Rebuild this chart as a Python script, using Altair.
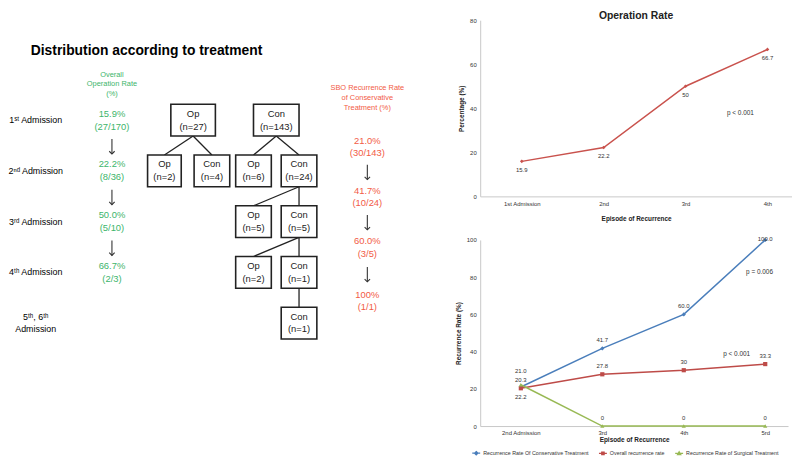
import json
import altair as alt
import pandas as pd

FONT = "Liberation Sans"
GREEN = "#3db56b"
ORANGE = "#f25b46"

# ---------------- data: left diagram ----------------
diagram_title = "Distribution according to treatment"
row_labels = ["1ˢᵗ Admission", "2ⁿᵈ Admission", "3ʳᵈ Admission", "4ᵗʰ Admission", "5ᵗʰ, 6ᵗʰ\nAdmission"]
row_levels = [1, 2, 3, 4, 5]

op_header = "Overall\nOperation Rate\n(%)"
op_rate_pct = ["15.9%", "22.2%", "50.0%", "66.7%"]
op_rate_frac = ["(27/170)", "(8/36)", "(5/10)", "(2/3)"]
op_rate_levels = [1, 2, 3, 4]

sbo_header = "SBO Recurrence Rate\nof Conservative\nTreatment (%)"
sbo_pct = ["21.0%", "41.7%", "60.0%", "100%"]
sbo_frac = ["(30/143)", "(10/24)", "(3/5)", "(1/1)"]
sbo_levels = [1.53, 2.52, 3.51, 4.57]

node_type = ["Op", "Con", "Op", "Con", "Op", "Con", "Op", "Con", "Op", "Con", "Con"]
node_n = [27, 143, 2, 4, 6, 24, 5, 5, 2, 1, 1]
node_level = [1, 1, 2, 2, 2, 2, 3, 3, 4, 4, 5]
node_x = [190, 274, 161, 209, 251, 297, 251, 297, 251, 297, 297]
node_w = [45, 46, 34, 36, 36, 36, 36, 36, 36, 36, 36]
edge_parent = [0, 0, 1, 1, 5, 5, 7, 7, 9]
edge_child = [2, 3, 4, 5, 6, 7, 8, 9, 10]

# ---------------- data: operation rate chart ----------------
op_episode = ["1st Admission", "2nd", "3rd", "4th"]
op_rate = [15.9, 22.2, 50, 66.7]
op_labels = ["15.9", "22.2", "50", "66.7"]
op_p_text = ["p < 0.001"]
op_p_x = [2.67]
op_p_y = [37.7]

# ---------------- data: recurrence chart ----------------
rec_episode = ["2nd Admission", "3rd", "4th", "5rd"]
series_names = [
    "Recurrence Rate Of Conservative Treatment",
    "Overall recurrence rate",
    "Recurrence Rate of Surgical Treatment",
]
rec_conservative = [21.0, 41.7, 60.0, 100.0]
rec_overall = [20.3, 27.8, 30, 33.3]
rec_surgical = [22.2, 0, 0, 0]
lab_conservative = ["21.0", "41.7", "60.0", "100.0"]
lab_overall = ["20.3", "27.8", "30", "33.3"]
lab_surgical = ["22.2", "0", "0", "0"]
rec_p_text = ["p = 0.006", "p < 0.001"]
rec_p_x = [2.93, 2.65]
rec_p_y = [83, 38.6]

series_colors = ["#4a7ebb", "#be4b48", "#98b954"]
series_shapes = ["diamond", "square", "triangle-up"]
legend_paths = [
    "M-1,0L1,0M0,-0.4L0.4,0L0,0.4L-0.4,0Z",
    "M-1,0L1,0M-0.3,-0.3L0.3,-0.3L0.3,0.3L-0.3,0.3Z",
    "M-1,0L1,0M0,-0.4L0.4,0.3L-0.4,0.3Z",
]

# ================= LEFT PANEL =================
TOP_OFF = 9
LW, LH = 420, 450 - TOP_OFF
L0, LSTEP = 66.75, 51.25
lvl_top = (8 + TOP_OFF - L0) / LSTEP
lvl_bot = (8 + TOP_OFF + LH - L0) / LSTEP
HALF_H = 16 / LSTEP
ARROW_HALF = 7.5 / LSTEP

xs = alt.Scale(domain=[8, 8 + LW], nice=False, zero=False)
ys = alt.Scale(domain=[lvl_top, lvl_bot], nice=False, zero=False, reverse=True)


def ex(f):
    return alt.X(f, type="quantitative", scale=xs, axis=None)


def ey(f):
    return alt.Y(f, type="quantitative", scale=ys, axis=None)


def text_layer(df, size, color="black", weight="normal", align="center", lh=12, lines=1):
    return alt.Chart(df).mark_text(
        font=FONT, fontSize=size, color=color, fontWeight=weight, align=align,
        baseline="middle", lineBreak="\n", lineHeight=lh, dy=-(lines - 1) * lh / 2
    ).encode(x=ex("x"), y=ey("lvl"), text="t:N")


def arrow_layers(df):
    d = df.copy()
    d["y1"] = d["lvl"] - ARROW_HALF
    d["y2"] = d["lvl"] + ARROW_HALF
    shaft = alt.Chart(d).mark_rule(color="#333", strokeWidth=1.1).encode(
        x=ex("x"), y=ey("y1"), y2="y2:Q")
    head = alt.Chart(d).mark_point(shape="M-1,-1L0,0L1,-1", filled=False, size=30,
                                   color="#333", strokeWidth=1.1, opacity=1).encode(
        x=ex("x"), y=ey("y2"))
    return [shaft, head]


title_df = pd.DataFrame({"t": [diagram_title], "x": [26], "lvl": [(48 - L0) / LSTEP]})
rows1_df = pd.DataFrame({"t": row_labels[:-1], "x": 31, "lvl": row_levels[:-1]})
rows2_df = pd.DataFrame({"t": row_labels[-1:], "x": 31, "lvl": row_levels[-1:]})
gh_df = pd.DataFrame({"t": [op_header], "x": [108], "lvl": [(82 - L0) / LSTEP]})
gv_df = pd.DataFrame({"t": [p + "\n" + f for p, f in zip(op_rate_pct, op_rate_frac)],
                      "x": 108, "lvl": op_rate_levels})
ga_df = pd.DataFrame({"x": 108, "lvl": [l + 0.52 for l in op_rate_levels[:-1]]})
rh_df = pd.DataFrame({"t": [sbo_header], "x": [366], "lvl": [(96 - L0) / LSTEP]})
rv_df = pd.DataFrame({"t": [p + "\n" + f for p, f in zip(sbo_pct, sbo_frac)],
                      "x": 366, "lvl": sbo_levels})
ra_df = pd.DataFrame({"x": 366,
                      "lvl": [(a + b) / 2 for a, b in zip(sbo_levels[:-1], sbo_levels[1:])]})

nodes = pd.DataFrame({
    "t": [f"{a}\n(n={n})" for a, n in zip(node_type, node_n)],
    "x": node_x, "lvl": node_level, "w": node_w,
})
nodes["x1"] = nodes["x"] - nodes["w"] / 2
nodes["x2"] = nodes["x"] + nodes["w"] / 2
nodes["y1"] = nodes["lvl"] - HALF_H
nodes["y2"] = nodes["lvl"] + HALF_H

edges = pd.DataFrame({
    "xa": [node_x[p] for p in edge_parent],
    "ya": [node_level[p] + HALF_H for p in edge_parent],
    "xb": [node_x[c] for c in edge_child],
    "yb": [node_level[c] - HALF_H for c in edge_child],
})

edge_layer = alt.Chart(edges).mark_rule(color="#222", strokeWidth=1.3).encode(
    x=ex("xa"), y=ey("ya"), x2="xb:Q", y2="yb:Q")
box_layer = alt.Chart(nodes).mark_rect(fill="white", stroke="#222", strokeWidth=1.6).encode(
    x=ex("x1"), x2="x2:Q", y=ey("y1"), y2="y2:Q")
box_text = text_layer(nodes, 9.5, color="#222", lh=13, lines=2)

left = alt.layer(
    text_layer(title_df, 14, weight="bold", align="left"),
    text_layer(rows1_df, 9),
    text_layer(rows2_df, 9, lh=12, lines=2),
    text_layer(gh_df, 7.5, color=GREEN, lh=10, lines=3),
    text_layer(gv_df, 9.5, color=GREEN, lh=13, lines=2),
    *arrow_layers(ga_df),
    text_layer(rh_df, 7.5, color=ORANGE, lh=10, lines=3),
    text_layer(rv_df, 9.5, color=ORANGE, lh=12.5, lines=2),
    *arrow_layers(ra_df),
    edge_layer, box_layer, box_text,
).properties(width=LW, height=LH)

# ================= RIGHT TOP: Operation Rate =================
AX = dict(ticks=False, grid=False, domainColor="#c8c8c8", labelFontSize=6, labelColor="#333",
          titleFontSize=6.5, titleFontWeight="bold", titleColor="#222", labelFont=FONT, titleFont=FONT,
          labelOverlap=False)

top_df = pd.DataFrame({"idx": list(range(len(op_episode))), "rate": op_rate, "label": op_labels})
xt = alt.X("idx:Q", scale=alt.Scale(domain=[-0.508, 3.30], nice=False, zero=False),
           axis=alt.Axis(values=list(range(len(op_episode))),
                         labelExpr=f"{json.dumps(op_episode)}[datum.value]",
                         title="Episode of Recurrence", labelPadding=4, titlePadding=9, **AX))
yt = alt.Y("rate:Q", scale=alt.Scale(domain=[0, 80], nice=False),
           axis=alt.Axis(values=[0, 20, 40, 60, 80], title="Percentage (%)",
                         labelPadding=4, titlePadding=5, **AX))
top_base = alt.Chart(top_df).encode(x=xt, y=yt)
top_line = top_base.mark_line(color="#c9524d", strokeWidth=1.5)
top_pts = top_base.mark_point(filled=True, color="#c9524d", size=14, shape="diamond", opacity=1)
top_lab = top_base.mark_text(font=FONT, fontSize=6, color="#333", dy=9).encode(text="label:N")
top_p = alt.Chart(pd.DataFrame({"t": op_p_text, "idx": op_p_x, "rate": op_p_y})).mark_text(
    font=FONT, fontSize=6.5, color="#333").encode(x=xt, y=yt, text="t:N")

top = alt.layer(top_line, top_pts, top_lab, top_p).properties(
    width=315, height=178,
    title=alt.Title("Operation Rate", fontSize=10.5, fontWeight="bold", font=FONT, offset=-4, color="#222"),
)

# ================= RIGHT BOTTOM: Recurrence =================
rows = []
for s, vals, labs in zip(series_names, [rec_conservative, rec_overall, rec_surgical],
                         [lab_conservative, lab_overall, lab_surgical]):
    for i, (v, lb) in enumerate(zip(vals, labs)):
        rows.append({"series": s, "idx": i, "value": v, "label": lb})
rec_df = pd.DataFrame(rows)

xb = alt.X("idx:Q", scale=alt.Scale(domain=[-0.499, 3.28], nice=False, zero=False),
           axis=alt.Axis(values=list(range(len(rec_episode))),
                         labelExpr=f"{json.dumps(rec_episode)}[datum.value]",
                         title="Episode of Recurrence", labelPadding=4, titlePadding=1, **AX))
yb = alt.Y("value:Q", scale=alt.Scale(domain=[0, 100], nice=False),
           axis=alt.Axis(values=[0, 20, 40, 60, 80, 100], title="Recurrence Rate (%)",
                         labelPadding=4, titlePadding=5, **AX))
col_scale = alt.Scale(domain=series_names, range=series_colors)

rb = alt.Chart(rec_df).encode(x=xb, y=yb)

# legend carrier (first layer so that its explicit legend settings win)
LEG = dict(orient="none", legendX=-9, legendY=210, direction="horizontal", title=None,
           labelFontSize=5.4, labelFont=FONT, labelColor="#333", symbolSize=64,
           symbolStrokeWidth=1.3, symbolOpacity=1, columnPadding=7, labelOffset=2)
rec_leg = rb.mark_point(filled=False, opacity=0).encode(
    color=alt.Color("series:N", scale=col_scale, legend=alt.Legend(**LEG)),
    shape=alt.Shape("series:N", scale=alt.Scale(domain=series_names, range=legend_paths),
                    legend=alt.Legend(**LEG)),
)
rec_line = rb.mark_line(strokeWidth=1.5).encode(
    color=alt.Color("series:N", scale=col_scale, legend=None), detail="series:N")
rec_pts = [
    rb.mark_point(filled=True, size=18, opacity=1, shape=shp).encode(
        color=alt.Color("series:N", scale=col_scale, legend=None)
    ).transform_filter(alt.datum.series == s)
    for s, shp in zip(series_names, series_shapes)
]

lab_common = dict(font=FONT, fontSize=6, color="#333")
first_cons = f"datum.series == '{series_names[0]}' && datum.idx == 0"
last_cons = f"datum.series == '{series_names[0]}' && datum.idx == {len(rec_episode) - 1}"
first_surg = f"datum.series == '{series_names[2]}' && datum.idx == 0"
rec_lab_main = rb.mark_text(dy=-8, **lab_common).encode(text="label:N").transform_filter(
    f"!({first_cons}) && !({last_cons}) && !({first_surg})")
rec_lab_fc = rb.mark_text(dy=-16, **lab_common).encode(text="label:N").transform_filter(first_cons)
rec_lab_lc = rb.mark_text(dy=-1, **lab_common).encode(text="label:N").transform_filter(last_cons)
rec_lab_fs = rb.mark_text(dy=12, **lab_common).encode(text="label:N").transform_filter(first_surg)
rec_p = alt.Chart(pd.DataFrame({"t": rec_p_text, "idx": rec_p_x, "value": rec_p_y})).mark_text(
    font=FONT, fontSize=6.5, color="#333").encode(x=xb, y=yb, text="t:N")

bottom = alt.layer(rec_leg, rec_line, *rec_pts, rec_lab_main, rec_lab_fc, rec_lab_lc, rec_lab_fs, rec_p
                   ).properties(width=311, height=188)

right = alt.vconcat(top, bottom, spacing=14).resolve_scale(
    color="independent", shape="independent").resolve_legend(color="independent", shape="independent")
chart = alt.hconcat(left, right, spacing=26).resolve_scale(
    color="independent", shape="independent").resolve_legend(
    color="independent", shape="independent").properties(padding=0).configure_view(
    stroke=None).configure_axis(labelOverlap=False)

chart.save("out.html", embed_options={"renderer": "svg", "actions": False})
